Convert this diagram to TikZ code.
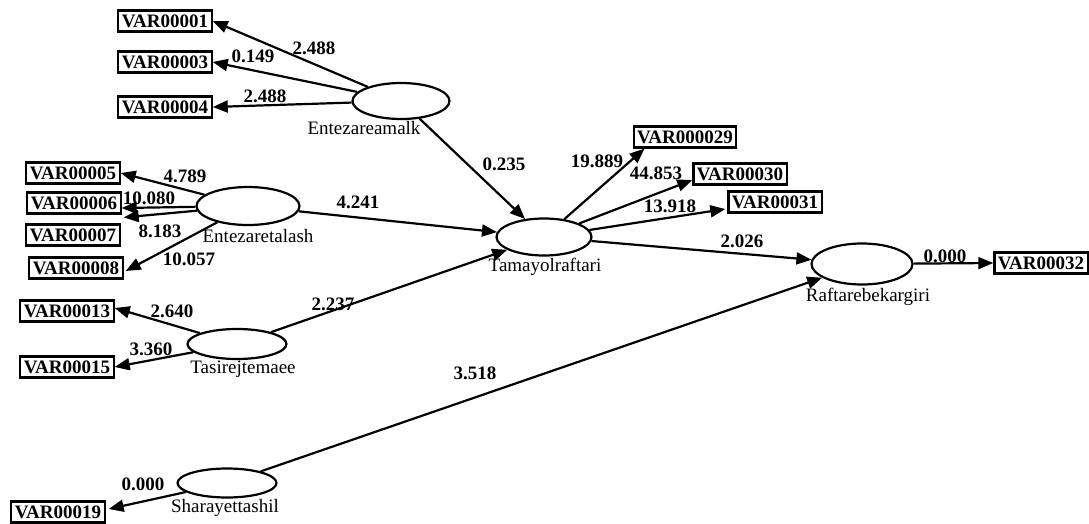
\documentclass[tikz,border=0pt]{standalone}
\usepackage{fontspec}
\setmainfont{Liberation Serif}
\usetikzlibrary{arrows.meta,shapes.geometric,calc}
\begin{document}
\begin{tikzpicture}[x=1pt,y=-1pt,
 obs/.style={draw,line width=2.2pt,inner xsep=3.5pt,inner ysep=1pt,minimum height=21pt,font=\fontsize{19}{19}\selectfont\bfseries},
 lat/.style={draw,ellipse,line width=2.2pt,inner sep=0pt},
 lbl/.style={font=\fontsize{19}{19}\selectfont,inner sep=0pt},
 num/.style={font=\fontsize{19}{19}\selectfont\bfseries,inner sep=0pt},
 arr/.style={line width=2.2pt,-{Triangle[length=15pt,width=12pt]}}]
\useasboundingbox (0,0) rectangle (1089,524);
% observed variables
\node[obs] (v1) at (165,21) {VAR00001};
\node[obs] (v3) at (165,62) {VAR00003};
\node[obs] (v4) at (165,107) {VAR00004};
\node[obs] (v5) at (73,173) {VAR00005};
\node[obs] (v6) at (74,203) {VAR00006};
\node[obs] (v7) at (73,235) {VAR00007};
\node[obs] (v8) at (76,268) {VAR00008};
\node[obs] (v13) at (67,311) {VAR00013};
\node[obs] (v15) at (67,367) {VAR00015};
\node[obs] (v19) at (58,512) {VAR00019};
\node[obs] (v29) at (685,137) {VAR000029};
\node[obs] (v30) at (740,174) {VAR00030};
\node[obs] (v31) at (775,202) {VAR00031};
\node[obs] (v32) at (1041,263) {VAR00032};
% latent variables
\node[lat,minimum width=97pt,minimum height=36pt] (ea) at (401,101) {};
\node[lat,minimum width=103pt,minimum height=38pt] (et) at (248,206) {};
\node[lat,minimum width=99pt,minimum height=30pt] (tj) at (237,344) {};
\node[lat,minimum width=99pt,minimum height=29pt] (sh) at (227,483) {};
\node[lat,minimum width=95pt,minimum height=37pt] (ta) at (544,237) {};
\node[lat,minimum width=101pt,minimum height=41pt] (rb) at (862,264) {};
% latent labels
\node[lbl] (lea) at (364,128) {Entezareamalk};
\node[lbl] (let) at (258,236) {Entezaretalash};
\node[lbl] (ltj) at (243,369) {Tasirejtemaee};
\node[lbl] (lsh) at (225,508) {Sharayettashil};
\node[lbl] (lta) at (545,267) {Tamayolraftari};
\node[lbl] (lrb) at (868,297) {Raftarebekargiri};
% connectors
\draw[arr] (ea) -- (v1.east);
\draw[arr] (ea) -- (v3.east);
\draw[arr] (ea) -- (v4.east);
\draw[arr] (et) -- (v5.east);
\draw[arr] (et) -- ($(v6.east)+(0,5)$);
\draw[arr] (et) -- ($(v7.north east)+(3,-6)$);
\draw[arr] (et) -- ($(v8.east)+(2,3)$);
\draw[arr] (tj) -- ($(v13.east)+(0,-3)$);
\draw[arr] (tj) -- (v15.east);
\draw[arr] (sh) -- ($(v19.east)+(3,-3)$);
\draw[arr] (ea) -- (ta);
\draw[arr] (et) -- (ta);
\draw[arr] (tj) -- (ta);
\draw[arr] (ta) -- ($(v29.south west)+(12,0)$);
\draw[arr] (ta) -- ($(v30.west)+(0,6)$);
\draw[arr] (ta) -- ($(v31.west)+(-2,7)$);
\draw[arr] (ta) -- (rb);
\draw[arr] (sh) -- (rb);
\draw[arr] (rb) -- (v32.west);
% numbers
\node[num] (n1) at (314,48) {2.488};
\node[num] (n3) at (253,56) {0.149};
\node[num] (n4) at (265,96) {2.488};
\node[num] (n5) at (185,176) {4.789};
\node[num] (n6) at (149,198) {10.080};
\node[num] (n7) at (160,231) {8.183};
\node[num] (n8) at (189,259) {10.057};
\node[num] (n13) at (172,311) {2.640};
\node[num] (n15) at (151,349) {3.360};
\node[num] (n19) at (143,484) {0.000};
\node[num] (nea) at (504,164) {0.235};
\node[num] (net) at (358,202) {4.241};
\node[num] (ntj) at (333,304) {2.237};
\node[num] (nsh) at (475,373) {3.518};
\node[num] (n29) at (597,161) {19.889};
\node[num] (n30) at (656,173) {44.853};
\node[num] (n31) at (670,206) {13.918};
\node[num] (nta) at (742,241) {2.026};
\node[num] (n32) at (945,256) {0.000};
\end{tikzpicture}
\end{document}
